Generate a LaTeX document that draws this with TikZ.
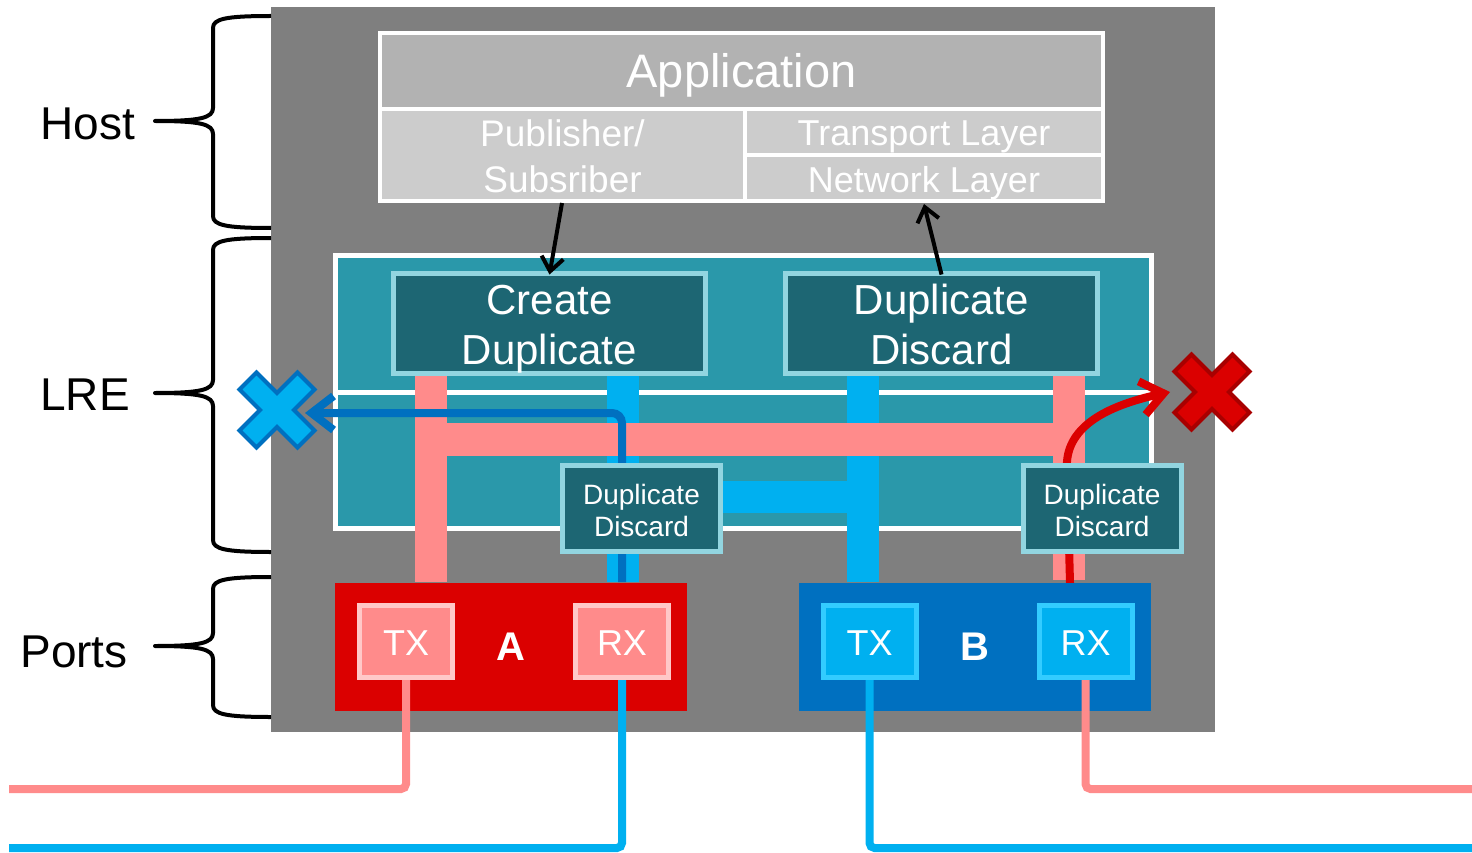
\documentclass[tikz,border=0pt]{standalone}
\usepackage{fontspec}
\setmainfont{Liberation Sans}
\usetikzlibrary{arrows.meta}

\definecolor{hostgray}{HTML}{7F7F7F}
\definecolor{appgray}{HTML}{B2B2B2}
\definecolor{cellgray}{HTML}{CCCCCC}
\definecolor{lreteal}{HTML}{2A98AA}
\definecolor{darkteal}{HTML}{1D6673}
\definecolor{lightteal}{HTML}{92D5E0}
\definecolor{pinkfill}{HTML}{FF8B8B}
\definecolor{pinkedge}{HTML}{FFC8C8}
\definecolor{portred}{HTML}{DB0000}
\definecolor{darkred}{HTML}{A80000}
\definecolor{skyblue}{HTML}{00B0F0}
\definecolor{blueedge}{HTML}{33CCFF}
\definecolor{portblue}{HTML}{0070C0}

% curly brace: top y, tip y, bottom y
\newcommand\curlybrace[3]{%
  \draw[brace] (271,#1) .. controls (225,#1) and (213,{#1+3}) .. (213,{#1+12})
    -- (213,{#2-13}) .. controls (213,{#2-3}) and (200,#2) .. (155,#2)
    .. controls (200,#2) and (213,{#2+3}) .. (213,{#2+13})
    -- (213,{#3-12}) .. controls (213,{#3-3}) and (225,#3) .. (271,#3);}

\tikzset{
  crossmark/.pic={
    \path[pic actions, rotate=45]
      (12,41) -- (12,12) -- (41,12) -- (41,-12) -- (12,-12) -- (12,-41)
      -- (-12,-41) -- (-12,-12) -- (-41,-12) -- (-41,12) -- (-12,12) -- (-12,41) -- cycle;
  }
}

\begin{document}
\begin{tikzpicture}[x=1pt,y=-1pt,
  brace/.style={line width=4pt, black, line join=round},
  lbl/.style={inner sep=0, text=black, font=\fontsize{46}{52}\selectfont},
  cell/.style={inner sep=0, outer sep=0, text=white, align=center},
  tealbox/.style={draw=lightteal, fill=darkteal, line width=5pt, inner sep=0, outer sep=0},
  bigteal/.style={tealbox, minimum width=312pt, minimum height=100pt},
  smallteal/.style={tealbox, minimum width=158pt, minimum height=86pt},
  bigtext/.style={cell, font=\fontsize{42}{50}\selectfont},
  smalltext/.style={cell, font=\fontsize{28}{32}\selectfont},
  portbox/.style={inner sep=0, outer sep=0, minimum width=352pt, minimum height=128pt,
    text=white, font=\bfseries\fontsize{40}{44}\selectfont},
  trx/.style={line width=5pt, inner sep=0, outer sep=0, minimum width=93pt,
    minimum height=72pt},
  trxtext/.style={cell, font=\fontsize{36}{40}\selectfont},
  pinktrx/.style={trx, draw=pinkedge, fill=pinkfill},
  bluetrx/.style={trx, draw=blueedge, fill=skyblue},
  wire/.style={line width=8pt, rounded corners=5pt},
  flow/.style={line width=4pt, -{Straight Barb[length=14pt,width=22pt]}},
  reject/.style={line width=8pt, -{Straight Barb[length=22pt,width=34pt]}},
]
\useasboundingbox (0,0) rectangle (1472,853);

% host background
\fill[hostgray] (271,7) rectangle (1215,732);

% layer braces and their labels
\curlybrace{16}{121}{228}
\curlybrace{238}{393}{552}
\curlybrace{577}{646}{717}
\node[lbl] (host)  at (88,124) {Host};
\node[lbl] (lre)   at (85,395) {LRE};
\node[lbl] (ports) at (74,652) {Ports};

% application stack
\fill[white] (378,31) rectangle (1105,203);
\fill[appgray] (382,35) rectangle (1101,107);
\fill[cellgray] (382,111) rectangle (743,199);
\fill[cellgray] (747,111) rectangle (1101,153);
\fill[cellgray] (747,157) rectangle (1101,199);
\node[cell, font=\fontsize{47}{50}\selectfont] (app) at (741.5,75.5) {Application};
\node[cell, font=\fontsize{37}{46}\selectfont] (pub) at (562.5,156) {Publisher/\\Subsriber};
\node[cell, font=\fontsize{36}{40}\selectfont] (transport) at (924,137) {Transport Layer};
\node[cell, font=\fontsize{36}{40}\selectfont] (network) at (924,183) {Network Layer};
\coordinate (pubbot) at (562,203);
\coordinate (netbot) at (924,204);

% LRE block
\draw[white, line width=5pt, fill=lreteal] (335.5,255.5) rectangle (1151.5,528.5);
\draw[white, line width=5pt] (333,392) -- (1154,392);

% internal paths
\fill[skyblue] (607,376) rectangle (639,582);
\fill[skyblue] (847,376) rectangle (879,582);
\fill[skyblue] (639,481) rectangle (847,513);
\fill[pinkfill] (415,376) rectangle (447,582);
\fill[pinkfill] (1053,376) rectangle (1085,580);
\fill[pinkfill] (415,423) rectangle (1085,456);

% duplicate handling
\node[bigteal] (cd) at (549.5,323.5) {};
\node[bigtext] at ([yshift=-6pt]cd.center) {Create\\Duplicate};
\node[bigteal] (dd) at (941.5,323.5) {};
\node[bigtext] at ([yshift=-1pt]dd.center) {Duplicate\\Discard};

% rejected frames
\coordinate (bluex) at (277,410);
\coordinate (redx) at (1212,392);
\coordinate (blueret) at (622,582);
\coordinate (redret) at (1070,583);
\draw[reject, portblue, rounded corners=10pt] (blueret) |- ([xshift=28]bluex |- 0,413);
\draw[reject, portred] (redret) -- (1067,470)
  .. controls (1064,428) and (1105,406) .. ([xshift=-42]redx);

\node[smallteal] (dda) at (641.5,508.5) {};
\node[smalltext] at ([yshift=-1.5pt]dda.center) {Duplicate\\Discard};
\node[smallteal] (ddb) at (1102,508.5) {};
\node[smalltext] at ([yshift=-1.5pt]ddb.center) {Duplicate\\Discard};

% ports
\node[portbox, fill=portred]  (porta) at (511,647) {A};
\node[portbox, fill=portblue] (portb) at (975,647) {B};
\node[pinktrx] (txa) at (406,641.5) {};
\node[pinktrx] (rxa) at (622,641.5) {};
\node[bluetrx] (txb) at (869.5,641.5) {};
\node[bluetrx] (rxb) at (1085.5,641.5) {};
\foreach \p/\t in {txa/TX, rxa/RX, txb/TX, rxb/RX}
  \node[trxtext] at ([yshift=-1.5pt]\p.center) {\t};

% network links
\draw[wire, pinkfill] ([yshift=-2.5pt]txa.south) |- (9,789);
\draw[wire, skyblue]  ([yshift=-2.5pt]rxa.south) |- (9,848);
\draw[wire, skyblue]  ([yshift=-2.5pt]txb.south) |- (1472,848);
\draw[wire, pinkfill] ([yshift=-2.5pt]rxb.south) |- (1472,789);

% application to LRE
\draw[flow] (pubbot) -- ([yshift=-1pt]cd.north);
\draw[flow] ([yshift=-1pt]dd.north) -- (netbot);

% discard marks
\pic[fill=skyblue, draw=portblue, line width=4pt, line join=miter] at (bluex) {crossmark};
\pic[fill=portred, draw=darkred, line width=4pt, line join=miter] at (redx) {crossmark};
\end{tikzpicture}
\end{document}
